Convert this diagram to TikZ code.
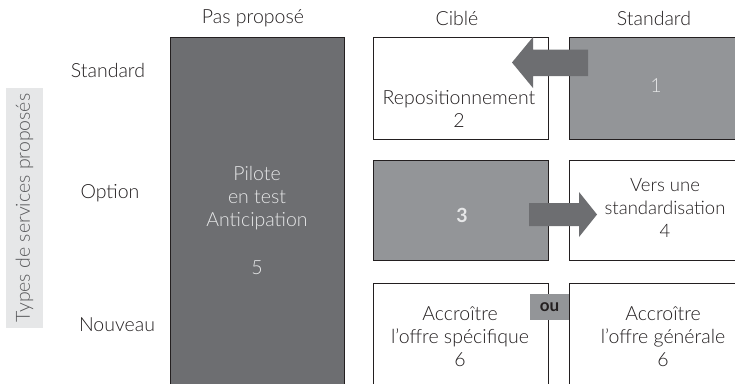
\documentclass[tikz,border=0pt]{standalone}
\usepackage{fontspec}
\setmainfont{Lato}[UprightFont=* Light,BoldFont=* Bold]
\usetikzlibrary{calc,positioning}
\definecolor{darkgrey}{HTML}{6D6E71}
\definecolor{midgrey}{HTML}{939598}
\definecolor{palegrey}{HTML}{E6E7E8}
\definecolor{axisgrey}{HTML}{58595B}
\definecolor{ink}{HTML}{231F20}
\tikzset{
  cell/.style={draw=ink,line width=1pt,inner sep=0pt,outer sep=0pt,
    anchor=north west},
  lbl/.style={text=ink,font=\fontsize{19.5}{23}\selectfont,align=center,
    inner sep=0pt},
  wlbl/.style={lbl,text=palegrey},
  blockarrow/.style={fill=darkgrey,draw=none}
}

\begin{document}
\begin{tikzpicture}[x=1pt,y=-1pt]
\useasboundingbox (0,0) rectangle (735,383);
\clip (0,0) rectangle (735,383);
% the grid
\node[cell,fill=darkgrey,minimum width=174pt,minimum height=360pt]
  (none) at (170,37) {};
\foreach \n/\x/\y/\h/\f in {c1/373/37/102/white,s1/569/37/102/midgrey,
    c2/373/160/100/midgrey,s2/569/160/100/white,
    c3/373/283/110/white,s3/569/283/110/white}
  \node[cell,fill=\f,minimum width={\x==373 ? 175 : 190},
    minimum height=\h] (\n) at (\x,\y) {};
% moves between cells
\fill[blockarrow] (588,49.5) -- (533,49.5) -- (533,37) -- (512,62.5)
  -- (533,88) -- (533,76) -- (588,76) -- cycle;
\fill[blockarrow] (529,203) -- (579,203) -- (579,192) -- (597,214.5)
  -- (579,237) -- (579,226) -- (529,226) -- cycle;
\node[fill=midgrey,minimum width=39pt,minimum height=26pt,inner sep=0pt,
  font=\fontsize{17}{20}\selectfont\bfseries,text=ink]
  (ou) at (549.5,307) {ou};
% headings
\foreach \n/\x/\t in {h1/253/Pas proposé,h2/457/Ciblé,h3/654/Standard}
  \node[lbl] (\n) at (\x,18) {\t};
\foreach \n/\x/\y/\t in {r1/108/70/Standard,r2/110/193/Option,
    r3/117/325/Nouveau}
  \node[lbl] (\n) at (\x,\y) {\t};
\node[lbl,rotate=90,fill=palegrey,text=axisgrey,minimum width=240pt,
  minimum height=37pt] (axis) at (24.5,208) {Types de services proposés};
% cell texts
\node[wlbl] (t5) at (257,220) {Pilote\\en test\\Anticipation\\[25pt]5};
\node[lbl] (t2) at (459,109) {Repositionnement\\2};
\node[wlbl] (t1) at (656,86) {1};
\node[wlbl,font=\fontsize{19.5}{23}\selectfont\bfseries] (t3) at (462,215) {3};
\node[lbl,font=\fontsize{18.5}{23}\selectfont] (t4) at (665,208)
  {Vers une\\standardisation\\4};
\node[lbl] (t6a) at (460,337) {Accroître\\l’offre spécifique\\6};
\node[lbl] (t6b) at (663,337) {Accroître\\l’offre générale\\6};
\end{tikzpicture}
\end{document}
